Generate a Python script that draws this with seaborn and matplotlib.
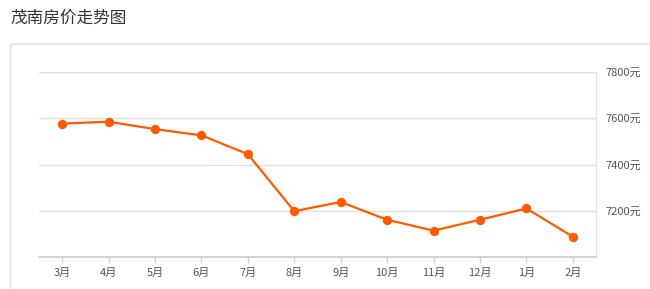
import matplotlib
matplotlib.use("Agg")
import matplotlib.pyplot as plt
import seaborn as sns
from matplotlib.patches import FancyBboxPatch

months = ["3月", "4月", "5月", "6月", "7月", "8月", "9月", "10月", "11月", "12月", "1月", "2月"]
prices = [7577, 7585, 7553, 7526, 7445, 7198, 7238, 7161, 7114, 7161, 7210, 7088]
yticks = [7200, 7400, 7600, 7800]
ytick_labels = ["7200元", "7400元", "7600元", "7800元"]
title = "茂南房价走势图"

sns.set_theme(style="white")
plt.rcParams["font.family"] = ["Noto Sans CJK SC", "DejaVu Sans"]

W, H = 650, 289
fig = plt.figure(figsize=(W / 100, H / 100), dpi=100)
fig.patch.set_facecolor("white")

# card border
card = FancyBboxPatch((10.5 / W, -0.1), 1.2, (H - 44) / H + 0.1,
                      boxstyle="round,pad=0,rounding_size=0.008",
                      transform=fig.transFigure, fill=False,
                      edgecolor="#dddddd", linewidth=1.0)
fig.patches.append(card)

fig.text(10 / W, 1 - 18 / H, title, fontsize=12, color="#333333",
         ha="left", va="center")

ax = fig.add_axes([39 / W, 1 - 257 / H, (596 - 39) / W, (257 - 72) / H])
color = "#ff5a00"
sns.pointplot(x=months, y=prices, color=color, markers="o",
              markersize=5.5, linewidth=1.6, ax=ax, errorbar=None)

ax.set_xlim(-0.5, len(months) - 0.5)
ax.set_ylim(7000, 7800)
ax.yaxis.tick_right()
ax.set_yticks(yticks)
ax.set_yticklabels(ytick_labels)
ax.grid(axis="y", color="#e0e0e0", linewidth=1)
ax.set_axisbelow(True)
ax.set_xlabel("")
ax.set_ylabel("")

for s in ["left", "top"]:
    ax.spines[s].set_visible(False)
ax.spines["right"].set_color("#e3e3e3")
ax.spines["right"].set_linewidth(1)
ax.spines["bottom"].set_color("#cccccc")
ax.spines["bottom"].set_linewidth(1.2)

ax.tick_params(axis="x", bottom=True, length=4, width=1, color="#cccccc",
               labelsize=8, labelcolor="#555555", pad=4)
ax.tick_params(axis="y", right=False, length=0, labelsize=8,
               labelcolor="#555555", pad=7)

fig.savefig("out.png", dpi=100, facecolor="white")
